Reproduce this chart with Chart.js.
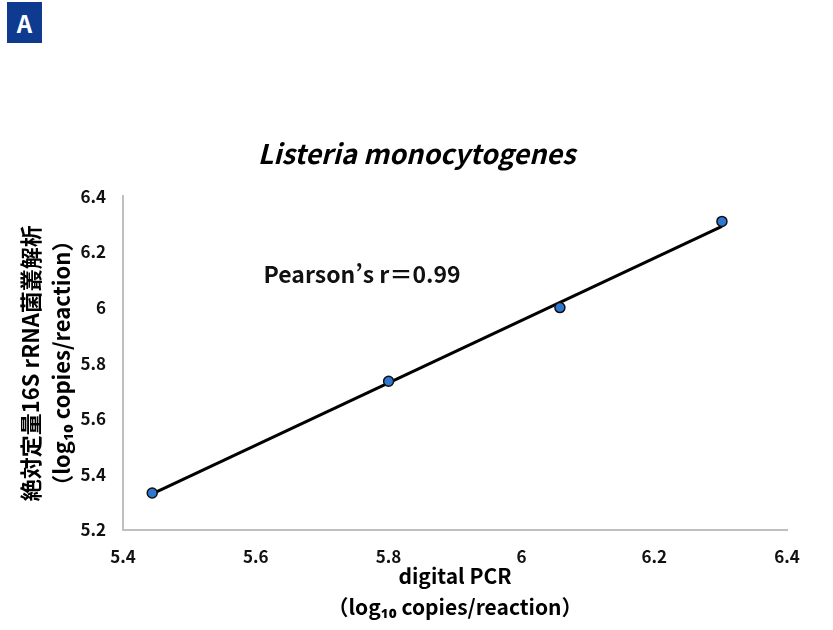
<!DOCTYPE html>
<html lang="ja">
<head>
<meta charset="UTF-8">
<title>Listeria monocytogenes</title>
<script src="https://cdn.jsdelivr.net/npm/chart.js"></script>
<style>
  html, body { margin: 0; padding: 0; background: #fff; }
  #wrap { position: relative; width: 833px; height: 630px; }
  #panel {
    position: absolute; left: 7px; top: 2px; width: 35px; height: 41px;
    background: #0E3A8F; color: #fff;
    font: bold 24px 'Noto Sans CJK JP', sans-serif;
    display: flex; align-items: center; justify-content: center;
  }
</style>
</head>
<body>
<div id="wrap">
  <canvas id="chart" width="833" height="630"></canvas>
  <div id="panel">A</div>
</div>
<script>
  // measured values
  const digitalPcr = [5.444, 5.80, 6.058, 6.302];
  const ngsValues = [5.333, 5.735, 6.00, 6.31];
  // fitted line as drawn in the figure
  const trendX = [5.444, 6.302];
  const trendY = [5.33, 6.292];
  const xTicks = ['5.4', '5.6', '5.8', '6', '6.2', '6.4'];
  const yTicks = ['5.2', '5.4', '5.6', '5.8', '6', '6.2', '6.4'];
  const noteText = 'Pearson\u2019s r\uFF1D0.99';
  const notePos = [5.76, 6.12];

  Chart.defaults.font.family = "'Noto Sans CJK JP', 'Noto Sans', sans-serif";
  Chart.defaults.color = '#111';

  const notePlugin = {
    id: 'note',
    afterDatasetsDraw(chart) {
      const { ctx, scales } = chart;
      ctx.save();
      ctx.font = "bold 23px 'Noto Sans CJK JP', sans-serif";
      ctx.fillStyle = '#111';
      ctx.textAlign = 'center';
      ctx.textBaseline = 'middle';
      ctx.fillText(noteText, scales.x.getPixelForValue(notePos[0]), scales.y.getPixelForValue(notePos[1]));
      ctx.restore();
    }
  };

  new Chart(document.getElementById('chart'), {
    type: 'scatter',
    data: {
      datasets: [
        {
          label: 'data',
          data: digitalPcr.map((x, i) => ({ x: x, y: ngsValues[i] })),
          backgroundColor: '#2E78D2',
          borderColor: '#111',
          borderWidth: 1.5,
          pointRadius: 5,
          order: 0
        },
        {
          label: 'trend',
          data: trendX.map((x, i) => ({ x: x, y: trendY[i] })),
          showLine: true,
          borderColor: '#000',
          borderWidth: 3,
          pointRadius: 0,
          order: 1
        }
      ]
    },
    options: {
      responsive: false,
      animation: false,
      layout: { padding: { left: 46, right: 46, top: 0, bottom: 0 } },
      plugins: {
        legend: { display: false },
        tooltip: { enabled: false },
        title: {
          display: true,
          text: 'Listeria monocytogenes',
          color: '#000',
          font: { size: 27, weight: 'bold', style: 'italic' },
          padding: { top: 138, bottom: 26 }
        }
      },
      scales: {
        x: {
          type: 'linear',
          min: 5.4, max: 6.4,
          afterFit(s) { s.height = 100; },
          grid: { display: false },
          border: { display: true, color: '#BFBFBF', width: 2 },
          ticks: {
            stepSize: 0.2, padding: 8,
            font: { size: 17, weight: 'bold' },
            callback: (v, i) => xTicks[i]
          },
          title: {
            display: true,
            text: ['digital PCR', '\uFF08log\u2081\u2080 copies/reaction\uFF09'],
            color: '#000',
            font: { size: 21, weight: 'bold', lineHeight: 1.45 },
            padding: { top: 0, bottom: 8 }
          }
        },
        y: {
          type: 'linear',
          min: 5.2, max: 6.4,
          afterFit(s) { s.width = 77; },
          grid: { display: false },
          border: { display: true, color: '#BFBFBF', width: 2 },
          ticks: {
            stepSize: 0.2, padding: 9,
            font: { size: 17, weight: 'bold' },
            callback: (v, i) => yTicks[i]
          },
          title: {
            display: true,
            text: ['絶対定量16S rRNA菌叢解析', '\uFF08log\u2081\u2080 copies/reaction\uFF09'],
            color: '#000',
            font: { size: 22, weight: 'bold', lineHeight: 1.4 },
            padding: { top: -31, bottom: 0 }
          }
        }
      }
    },
    plugins: [notePlugin]
  });
</script>
</body>
</html>
